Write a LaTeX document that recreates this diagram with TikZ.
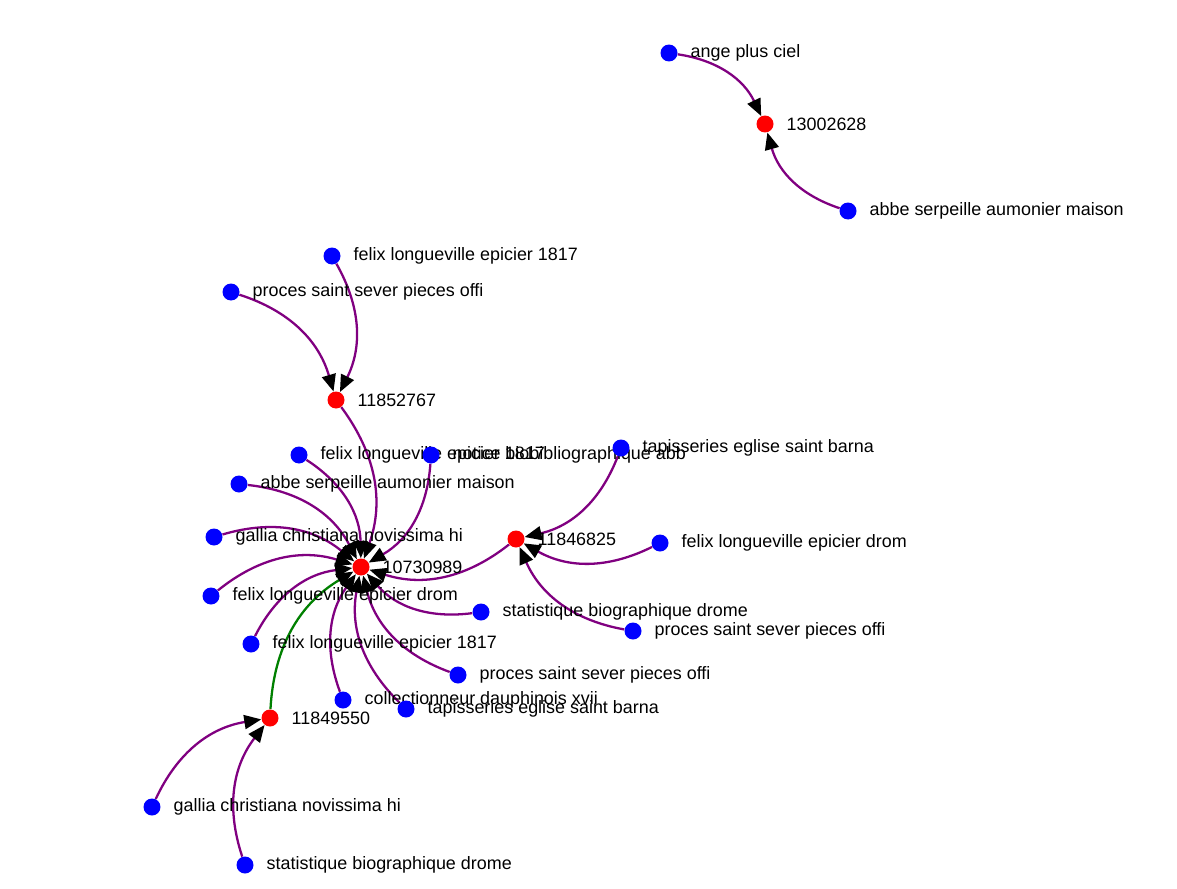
\documentclass[tikz,border=0pt]{standalone}
\usepackage{fontspec}
\setmainfont{Liberation Sans}
\usetikzlibrary{arrows.meta,backgrounds}
\definecolor{linkpurple}{RGB}{128,0,128}
\definecolor{linkgreen}{RGB}{0,128,0}

\begin{document}
\begin{tikzpicture}[
    x=0.02cm,y=0.02cm,label distance=0.25cm,
    txt/.style={inner sep=0pt,font=\fontsize{10.2}{12}\selectfont},
    doc/.style={circle,fill=red,inner sep=0pt,minimum size=0.34cm,label={[txt]right:#1}},
    term/.style={circle,fill=blue,inner sep=0pt,minimum size=0.34cm,label={[txt]right:#1}},
    link/.style={linkpurple,line width=1.3pt,-{Triangle[length=0.34cm,width=0.28cm,black]},bend left=28}
    ]
    \useasboundingbox (0,0) rectangle (1177,-889);

    \node[doc=13002628] (d13002628) at (765,-124) {};
    \node[doc=11852767] (d11852767) at (336,-400) {};
    \node[doc=10730989] (d10730989) at (361,-567) {};
    \node[doc=11846825] (d11846825) at (516,-539) {};
    \node[doc=11849550] (d11849550) at (270,-718) {};

    \node[term=ange plus ciel] (ange) at (669,-53) {};
    \node[term=abbe serpeille aumonier maison] (abbe1) at (848,-211) {};
    \node[term=felix longueville epicier 1817] (felix1) at (332,-256) {};
    \node[term=proces saint sever pieces offi] (proces1) at (231,-292) {};
    \node[term=felix longueville epicier 1817] (felix2) at (299,-455) {};
    \node[term=notice biobibliographique abb] (notice) at (431,-455) {};
    \node[term=abbe serpeille aumonier maison] (abbe2) at (239,-484) {};
    \node[term=gallia christiana novissima hi] (gallia1) at (214,-537) {};
    \node[term=felix longueville epicier drom] (felix3) at (211,-596) {};
    \node[term=felix longueville epicier 1817] (felix4) at (251,-644) {};
    \node[term=collectionneur dauphinois xvii] (collect) at (343,-700) {};
    \node[term=tapisseries eglise saint barna] (tapis1) at (406,-709) {};
    \node[term=proces saint sever pieces offi] (proces2) at (458,-675) {};
    \node[term=statistique biographique drome] (stat1) at (481,-612) {};
    \node[term=tapisseries eglise saint barna] (tapis2) at (621,-448) {};
    \node[term=felix longueville epicier drom] (felix5) at (660,-543) {};
    \node[term=proces saint sever pieces offi] (proces3) at (633,-631) {};
    \node[term=gallia christiana novissima hi] (gallia2) at (152,-807) {};
    \node[term=statistique biographique drome] (stat2) at (245,-865) {};

    \begin{pgfonlayer}{background}
    \foreach \s/\t in {ange/d13002628,abbe1/d13002628,
        felix1/d11852767,proces1/d11852767,d11852767/d10730989,
        felix2/d10730989,notice/d10730989,abbe2/d10730989,gallia1/d10730989,
        felix3/d10730989,felix4/d10730989,collect/d10730989,tapis1/d10730989,
        proces2/d10730989,stat1/d10730989,d11846825/d10730989,
        tapis2/d11846825,felix5/d11846825,proces3/d11846825,
        gallia2/d11849550,stat2/d11849550}
      \draw[link] (\s) to (\t);
    \draw[link,linkgreen] (d11849550) to (d10730989);
    \end{pgfonlayer}

  \end{tikzpicture}
\end{document}
